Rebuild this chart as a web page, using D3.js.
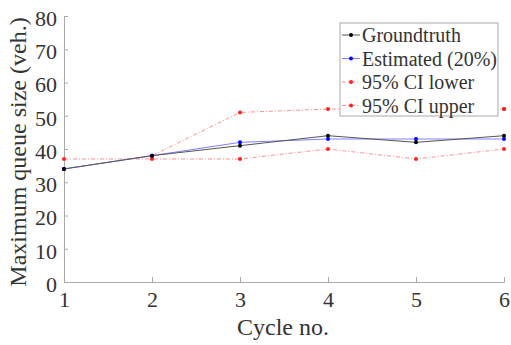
<!DOCTYPE html>
<html>
<head>
<meta charset="utf-8">
<script src="https://cdn.jsdelivr.net/npm/d3@7"></script>
<style>
  body { margin: 0; background: #fff; }
  text { font-family: "Liberation Serif", Tinos, "DejaVu Serif", serif; fill: #333; }
</style>
</head>
<body>
<div id="container"></div>
<script>
let w = 511;
let h = 345;

// data
let cycles = [1, 2, 3, 4, 5, 6];
let groundtruth = [34, 38, 41, 44, 42, 44];
let estimated = [34, 38, 42, 43, 43, 43];
let ciLower = [37, 37, 37, 40, 37, 40];
let ciUpper = [34, 38, 51, 52, 52, 52];
let yTicks = [0, 10, 20, 30, 40, 50, 60, 70, 80];

let series = [
  {name: 'Groundtruth', values: groundtruth, color: '#000', line: '#555', dash: null},
  {name: 'Estimated (20%)', values: estimated, color: '#0000ff', line: '#8080ff', dash: null},
  {name: '95% CI lower', values: ciLower, color: '#ff2020', line: '#ff9090', dash: '4,2,1,2'},
  {name: '95% CI upper', values: ciUpper, color: '#ff2020', line: '#ff9090', dash: '4,2,1,2'}
];

let x = d3.scaleLinear().domain([1, 6]).range([64, 504]);
let y = d3.scaleLinear().domain([0, 80]).range([282, 16]);

let viz = d3.select('#container')
  .append('svg')
    .attr('width', w)
    .attr('height', h)
;

// axes (ticks point inward)
let xAxis = d3.axisBottom(x).tickValues(cycles).tickSize(-5).tickPadding(10).tickFormat(d3.format('d'));
let yAxis = d3.axisLeft(y).tickValues(yTicks).tickSize(-4).tickPadding(7);

let xg = viz.append('g').attr('transform', 'translate(0,282)').call(xAxis);
let yg = viz.append('g').attr('transform', 'translate(64,0)').call(yAxis);

[xg, yg].forEach(function(g){
  g.attr('font-family', null);
  g.select('.domain').attr('stroke', '#aaa');
  g.selectAll('.tick line').attr('stroke', '#aaa');
  g.selectAll('.tick text')
    .attr('font-size', '22px')
    .attr('fill', '#333');
});
// baseline of the cycle numbers at about y = 307
xg.selectAll('.tick text').attr('y', 25).attr('dy', null);
yg.selectAll('.tick text').attr('dy', '0.42em');

viz.append('text')
  .attr('x', 283)
  .attr('y', 335)
  .attr('text-anchor', 'middle')
  .attr('font-size', '24px')
  .text('Cycle no.');

viz.append('text')
  .attr('transform', 'translate(26,152) rotate(-90)')
  .attr('text-anchor', 'middle')
  .attr('font-size', '24px')
  .text('Maximum queue size (veh.)');

// series lines and points
let line = d3.line()
  .x(function(d, i){ return x(cycles[i]); })
  .y(function(d){ return y(d); });

let lines = viz.append('g').classed('lines', true);
series.slice().reverse().forEach(function(s){
  lines.append('path')
    .datum(s.values)
    .attr('d', line)
    .attr('fill', 'none')
    .attr('stroke', s.line)
    .attr('stroke-width', 1)
    .attr('stroke-dasharray', s.dash);
  lines.selectAll(null).data(s.values).enter().append('circle')
    .attr('cx', function(d, i){ return x(cycles[i]); })
    .attr('cy', function(d){ return y(d); })
    .attr('r', 2)
    .attr('fill', s.color);
});

// legend
let lg = viz.append('g').attr('transform', 'translate(340,23)');
lg.append('rect')
  .attr('width', 158)
  .attr('height', 93)
  .attr('fill', '#fff')
  .attr('stroke', '#aaa');

let rows = lg.selectAll('g.row').data(series).enter().append('g')
  .attr('class', 'row')
  .attr('transform', function(d, i){ return 'translate(0,' + (12 + i * 23.5) + ')'; });
rows.append('line')
  .attr('x1', 2).attr('x2', 20)
  .attr('stroke', function(d){ return d.line; })
  .attr('stroke-dasharray', function(d){ return d.dash; });
rows.append('circle')
  .attr('cx', 11).attr('r', 2)
  .attr('fill', function(d){ return d.color; });
rows.append('text')
  .attr('x', 22)
  .attr('dy', '0.35em')
  .attr('font-size', '20px')
  .attr('fill', '#111')
  .text(function(d){ return d.name; });

// the last upper CI point sits on top of the legend frame
viz.append('circle')
  .attr('cx', x(6)).attr('cy', y(ciUpper[5]))
  .attr('r', 2).attr('fill', '#ff2020');
</script>
</body>
</html>
